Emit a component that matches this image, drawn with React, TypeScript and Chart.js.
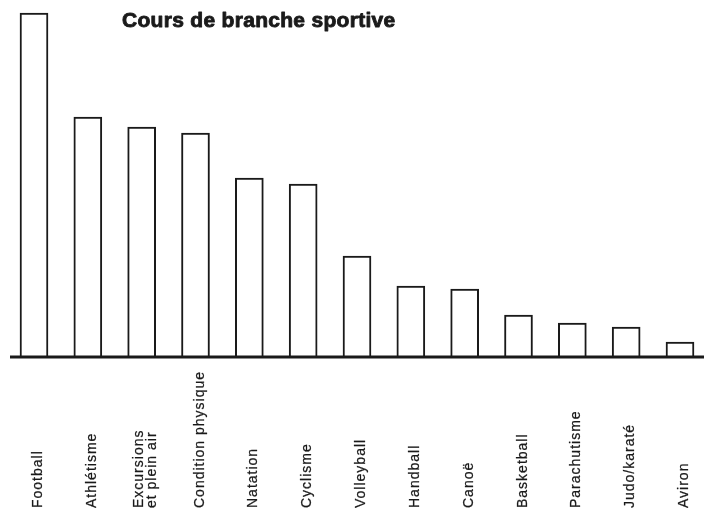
import React, { useEffect, useRef } from "react";
import { Chart, registerables } from "chart.js";

Chart.register(...registerables);

const title = "Cours de branche sportive";
const categories: (string | string[])[] = [
  "Football",
  "Athlétisme",
  ["Excursions", "et plein air"],
  "Condition physique",
  "Natation",
  "Cyclisme",
  "Volleyball",
  "Handball",
  "Canoë",
  "Basketball",
  "Parachutisme",
  "Judo/karaté",
  "Aviron",
];
const values = [344, 240, 230, 224, 179, 173, 101, 71, 68, 42, 34, 30, 15];
const yMax = 344;

const INK = "#1a1a1a";

const decorPlugin = {
  id: "decor",
  afterDatasetsDraw(chart: any) {
    const ctx = chart.ctx as CanvasRenderingContext2D;
    const xs = chart.scales.x;
    const ys = chart.scales.y;
    const y0 = ys.getPixelForValue(0);
    ctx.save();
    // baseline
    ctx.strokeStyle = INK;
    ctx.lineWidth = 3;
    ctx.beginPath();
    ctx.moveTo(10, y0);
    ctx.lineTo(chart.width, y0);
    ctx.stroke();

    // title (heavy)
    ctx.fillStyle = INK;
    ctx.strokeStyle = INK;
    ctx.lineJoin = "round";
    ctx.font = "bold 21px 'Liberation Sans', Arial, sans-serif";
    (ctx as any).letterSpacing = "0.3px";
    ctx.textAlign = "left";
    ctx.textBaseline = "alphabetic";
    ctx.fillText(title, 122, 27);
    ctx.lineWidth = 0.9;
    ctx.strokeText(title, 122, 27);

    // category labels, rotated, starting at the bottom
    ctx.font = "14px 'Liberation Sans', Arial, sans-serif";
    (ctx as any).letterSpacing = "1px";
    ctx.lineWidth = 0.25;
    categories.forEach((cat, i) => {
      const cx = xs.getPixelForValue(i);
      const lines = Array.isArray(cat) ? cat : [cat];
      const lh = 13;
      lines.forEach((ln, j) => {
        const off = 8 + (j - (lines.length - 1) / 2) * lh;
        ctx.save();
        ctx.translate(cx + off, 508);
        ctx.rotate(-Math.PI / 2);
        ctx.fillText(ln, 0, 0);
        ctx.strokeText(ln, 0, 0);
        ctx.restore();
      });
    });
    ctx.restore();
  },
};

export default function App() {
  const ref = useRef<HTMLCanvasElement>(null);
  useEffect(() => {
    const prevMargin = document.body.style.margin;
    document.body.style.margin = "0";
    const chart = new Chart(ref.current!, {
      type: "bar",
      data: {
        labels: categories.map((c) => (Array.isArray(c) ? c.join(" ") : c)),
        datasets: [
          {
            data: values,
            backgroundColor: "#ffffff",
            borderColor: INK,
            borderWidth: 2,
            borderSkipped: "bottom",
            barThickness: 28,
            clip: false as any,
          },
        ],
      },
      options: {
        responsive: false,
        animation: false,
        layout: { padding: { left: 34, right: 24, top: 13, bottom: 154 } },
        plugins: {
          legend: { display: false },
          title: { display: false },
          tooltip: { enabled: false },
        },
        scales: {
          x: { type: "category", offset: false, display: false },
          y: { min: 0, max: yMax, display: false },
        },
      },
      plugins: [decorPlugin],
    });
    return () => {
      chart.destroy();
      document.body.style.margin = prevMargin;
    };
  }, []);
  return (
    <div style={{ position: "fixed", left: 0, top: 0, width: 704, height: 511, background: "#fff" }}>
      <canvas ref={ref} width={704} height={511} style={{ display: "block" }} />
    </div>
  );
}
